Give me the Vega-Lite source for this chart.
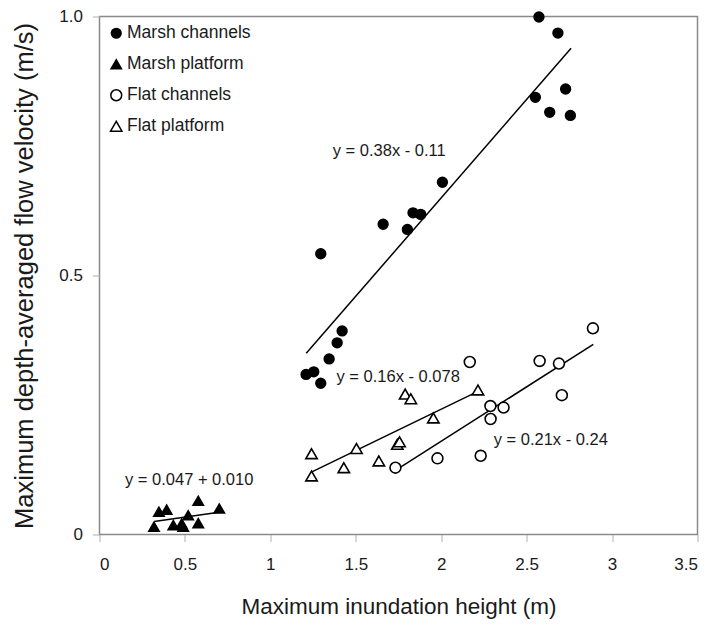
{
  "$schema": "https://vega.github.io/schema/vega-lite/v6.json",
  "width": 598,
  "height": 518,
  "autosize": {"type": "none"},
  "padding": {"left": 99.5, "top": 16.5, "right": 16.5, "bottom": 90.5},
  "background": "white",
  "config": {
    "font": "Liberation Sans",
    "view": {"stroke": "#8a8a8a", "strokeWidth": 1.5},
    "axis": {
      "grid": false,
      "domain": false,
      "labelFont": "Liberation Sans",
      "labelFontSize": 17,
      "labelColor": "#1a1a1a",
      "titleFont": "Liberation Sans",
      "titleFontSize": 22.5,
      "titleFontWeight": "normal",
      "titleColor": "#1a1a1a",
      "tickColor": "#b0b0b0",
      "tickSize": 7,
      "tickWidth": 1
    },
    "legend": {
      "labelFont": "Liberation Sans",
      "labelFontSize": 17.5,
      "labelColor": "#1a1a1a",
      "rowPadding": 12,
      "labelOffset": 2,
      "padding": 0
    }
  },
  "datasets": {
    "obs": [
      {"h": 1.209, "v": 0.309, "series": "Marsh channels"},
      {"h": 1.254, "v": 0.314, "series": "Marsh channels"},
      {"h": 1.295, "v": 0.292, "series": "Marsh channels"},
      {"h": 1.295, "v": 0.542, "series": "Marsh channels"},
      {"h": 1.344, "v": 0.339, "series": "Marsh channels"},
      {"h": 1.391, "v": 0.370, "series": "Marsh channels"},
      {"h": 1.420, "v": 0.393, "series": "Marsh channels"},
      {"h": 1.660, "v": 0.599, "series": "Marsh channels"},
      {"h": 1.802, "v": 0.589, "series": "Marsh channels"},
      {"h": 1.835, "v": 0.621, "series": "Marsh channels"},
      {"h": 1.880, "v": 0.618, "series": "Marsh channels"},
      {"h": 2.007, "v": 0.680, "series": "Marsh channels"},
      {"h": 2.551, "v": 0.844, "series": "Marsh channels"},
      {"h": 2.572, "v": 0.999, "series": "Marsh channels"},
      {"h": 2.635, "v": 0.815, "series": "Marsh channels"},
      {"h": 2.683, "v": 0.968, "series": "Marsh channels"},
      {"h": 2.728, "v": 0.860, "series": "Marsh channels"},
      {"h": 2.756, "v": 0.809, "series": "Marsh channels"},
      {"h": 0.319, "v": 0.015, "series": "Marsh platform"},
      {"h": 0.348, "v": 0.044, "series": "Marsh platform"},
      {"h": 0.393, "v": 0.048, "series": "Marsh platform"},
      {"h": 0.432, "v": 0.018, "series": "Marsh platform"},
      {"h": 0.481, "v": 0.021, "series": "Marsh platform"},
      {"h": 0.490, "v": 0.015, "series": "Marsh platform"},
      {"h": 0.519, "v": 0.037, "series": "Marsh platform"},
      {"h": 0.578, "v": 0.065, "series": "Marsh platform"},
      {"h": 0.578, "v": 0.022, "series": "Marsh platform"},
      {"h": 0.701, "v": 0.050, "series": "Marsh platform"},
      {"h": 1.732, "v": 0.129, "series": "Flat channels"},
      {"h": 1.978, "v": 0.147, "series": "Flat channels"},
      {"h": 2.167, "v": 0.333, "series": "Flat channels"},
      {"h": 2.231, "v": 0.152, "series": "Flat channels"},
      {"h": 2.288, "v": 0.248, "series": "Flat channels"},
      {"h": 2.289, "v": 0.223, "series": "Flat channels"},
      {"h": 2.365, "v": 0.245, "series": "Flat channels"},
      {"h": 2.576, "v": 0.335, "series": "Flat channels"},
      {"h": 2.689, "v": 0.330, "series": "Flat channels"},
      {"h": 2.706, "v": 0.269, "series": "Flat channels"},
      {"h": 2.888, "v": 0.398, "series": "Flat channels"},
      {"h": 1.241, "v": 0.156, "series": "Flat platform"},
      {"h": 1.241, "v": 0.113, "series": "Flat platform"},
      {"h": 1.430, "v": 0.129, "series": "Flat platform"},
      {"h": 1.504, "v": 0.166, "series": "Flat platform"},
      {"h": 1.635, "v": 0.142, "series": "Flat platform"},
      {"h": 1.743, "v": 0.174, "series": "Flat platform"},
      {"h": 1.756, "v": 0.179, "series": "Flat platform"},
      {"h": 1.789, "v": 0.271, "series": "Flat platform"},
      {"h": 1.822, "v": 0.262, "series": "Flat platform"},
      {"h": 1.954, "v": 0.225, "series": "Flat platform"},
      {"h": 2.215, "v": 0.279, "series": "Flat platform"}
    ],
    "fits": [
      {"fit": "Marsh channels", "h": 1.21, "v": 0.3498},
      {"fit": "Marsh channels", "h": 2.76, "v": 0.9388},
      {"fit": "Marsh platform", "h": 0.32, "v": 0.0250},
      {"fit": "Marsh platform", "h": 0.72, "v": 0.0438},
      {"fit": "Flat channels", "h": 1.73, "v": 0.1233},
      {"fit": "Flat channels", "h": 2.89, "v": 0.3669},
      {"fit": "Flat platform", "h": 1.24, "v": 0.1204},
      {"fit": "Flat platform", "h": 2.215, "v": 0.2764}
    ],
    "equations": [
      {"label": "y = 0.38x - 0.11", "h": 1.365, "v": 0.741},
      {"label": "y = 0.16x - 0.078", "h": 1.387, "v": 0.304},
      {"label": "y = 0.21x - 0.24", "h": 2.307, "v": 0.182},
      {"label": "y = 0.047 + 0.010", "h": 0.149, "v": 0.105}
    ]
  },
  "encoding": {
    "x": {
      "field": "h",
      "type": "quantitative",
      "scale": {"domain": [0, 3.5], "nice": false, "zero": false},
      "axis": {
        "title": "Maximum inundation height (m)",
        "values": [0, 0.5, 1, 1.5, 2, 2.5, 3, 3.5],
        "format": "~g",
        "labelPadding": 15,
        "titlePadding": 23
      }
    },
    "y": {
      "field": "v",
      "type": "quantitative",
      "scale": {"domain": [0, 1], "nice": false, "zero": false},
      "axis": {
        "title": "Maximum depth-averaged flow velocity (m/s)",
        "titleFontSize": 25.5,
        "values": [0, 0.5, 1],
        "labelExpr": "datum.value == 0 ? '0' : format(datum.value, '.1f')",
        "labelPadding": 10,
        "titlePadding": 21
      }
    }
  },
  "layer": [
    {
      "data": {"name": "fits"},
      "mark": {"type": "line", "color": "black", "strokeWidth": 1.5},
      "encoding": {"detail": {"field": "fit"}}
    },
    {
      "data": {"name": "obs"},
      "mark": {"type": "point", "filled": true, "stroke": "black", "strokeWidth": 1.6, "opacity": 1},
      "encoding": {
        "shape": {
          "field": "series",
          "type": "nominal",
          "scale": {
            "domain": ["Marsh channels", "Marsh platform", "Flat channels", "Flat platform"],
            "range": ["circle", "triangle-up", "circle", "triangle-up"]
          },
          "legend": {
            "title": null,
            "orient": "none",
            "legendX": 8,
            "legendY": 8,
            "encode": {"symbols": {"update": {"stroke": {"value": "black"}, "strokeWidth": {"value": 1.6}}}}
          }
        },
        "fill": {
          "field": "series",
          "type": "nominal",
          "scale": {
            "domain": ["Marsh channels", "Marsh platform", "Flat channels", "Flat platform"],
            "range": ["black", "black", "white", "white"]
          },
          "legend": {
            "title": null,
            "orient": "none",
            "legendX": 8,
            "legendY": 8,
            "encode": {"symbols": {"update": {"stroke": {"value": "black"}, "strokeWidth": {"value": 1.6}}}}
          }
        },
        "size": {
          "field": "series",
          "type": "nominal",
          "scale": {
            "domain": ["Marsh channels", "Marsh platform", "Flat channels", "Flat platform"],
            "range": [95, 130, 70, 100]
          },
          "legend": {
            "title": null,
            "orient": "none",
            "legendX": 8,
            "legendY": 8,
            "encode": {"symbols": {"update": {"stroke": {"value": "black"}, "strokeWidth": {"value": 1.6}}}}
          }
        }
      }
    },
    {
      "data": {"name": "equations"},
      "mark": {"type": "text", "align": "left", "baseline": "middle", "fontSize": 16.5, "color": "#1a1a1a", "font": "Liberation Sans"},
      "encoding": {"text": {"field": "label"}}
    }
  ]
}
